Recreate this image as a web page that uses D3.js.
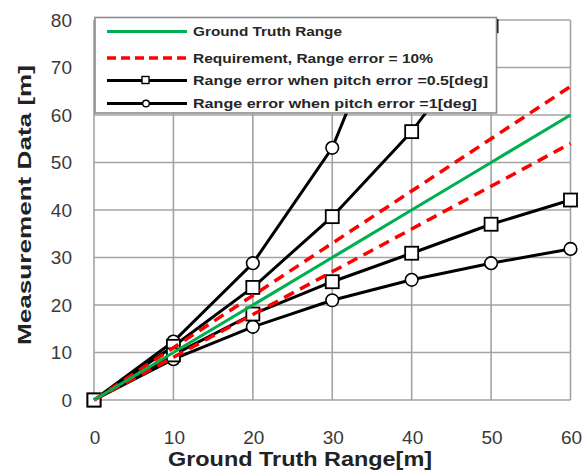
<!DOCTYPE html>
<html>
<head>
<meta charset="utf-8">
<script src="https://cdn.jsdelivr.net/npm/d3@7"></script>
<style>
    body { margin: 0; background: #fff; }
    svg { display: block; font-family: "Liberation Sans", Arial, sans-serif; }
</style>
</head>
<body>
<svg width="583" height="472"></svg>
<script>
// ground truth range [m]
var xValues = [0, 10, 20, 30, 40, 50, 60];
var truthValues = [0, 10, 20, 30, 40, 50, 60];
var reqUpper = [0, 11, 22, 33, 44, 55, 66];
var reqLower = [0, 9, 18, 27, 36, 45, 54];

// pitch error 0.5 deg (squares)
var sqX = [0, 10, 20, 30, 40, 50];
var sqUpper = [0, 11.3, 23.7, 38.6, 56.5, 78.8];
var sqLowerX = [0, 10, 20, 30, 40, 50, 60];
var sqLower = [0, 9.5, 18.1, 24.9, 30.9, 37.0, 42.1];

// pitch error 1 deg (circles)
var ciX = [0, 10, 20, 30, 40];
var ciUpper = [0, 12.3, 28.8, 53.1, 94];
var ciLowerX = [0, 10, 20, 30, 40, 50, 60];
var ciLower = [0, 8.6, 15.4, 21.0, 25.3, 28.8, 31.8];

var xTicks = [0, 10, 20, 30, 40, 50, 60];
var yTicks = [0, 10, 20, 30, 40, 50, 60, 70, 80];

var legendLabels = [
    "Ground Truth Range",
    "Requirement, Range error = 10%",
    "Range error when pitch error =0.5[deg]",
    "Range error when pitch error =1[deg]"
];

(function() {
    var svg = d3.select("svg");
    var x = d3.scaleLinear().domain([0, 60]).range([94, 570.5]);
    var y = d3.scaleLinear().domain([0, 80]).range([400, 20]);

    var gridColor = "#a3a3a3";

    // grid
    svg.append("g").selectAll("line.h")
        .data(yTicks.slice(1))
        .enter().append("line")
        .attr("x1", x(0)).attr("x2", x(60))
        .attr("y1", function(d) { return y(d); })
        .attr("y2", function(d) { return y(d); })
        .attr("stroke", gridColor).attr("stroke-width", 1.6);

    svg.append("g").selectAll("line.v")
        .data(xTicks.slice(1))
        .enter().append("line")
        .attr("y1", y(0)).attr("y2", y(80))
        .attr("x1", function(d) { return x(d); })
        .attr("x2", function(d) { return x(d); })
        .attr("stroke", gridColor).attr("stroke-width", 1.6);

    // axes lines
    svg.append("line").attr("x1", x(0)).attr("x2", x(60)).attr("y1", y(0)).attr("y2", y(0))
        .attr("stroke", gridColor).attr("stroke-width", 1.6);
    svg.append("line").attr("x1", x(0)).attr("x2", x(0)).attr("y1", y(0)).attr("y2", y(80))
        .attr("stroke", gridColor).attr("stroke-width", 1.6);

    // tick labels
    svg.append("g").selectAll("text")
        .data(yTicks)
        .enter().append("text")
        .attr("x", 72)
        .attr("y", function(d) { return y(d); })
        .attr("dy", "0.36em")
        .attr("text-anchor", "end")
        .attr("font-size", 19)
        .attr("fill", "#3a3a3a")
        .text(function(d) { return d; });

    svg.append("g").selectAll("text")
        .data(xTicks)
        .enter().append("text")
        .attr("x", function(d) { return x(d) + 1; })
        .attr("y", 444)
        .attr("text-anchor", "middle")
        .attr("font-size", 19)
        .attr("fill", "#3a3a3a")
        .text(function(d) { return d; });

    // axis titles
    svg.append("text")
        .attr("transform", "translate(31,205) rotate(-90)")
        .attr("text-anchor", "middle")
        .attr("font-size", 19)
        .attr("font-weight", "bold")
        .attr("fill", "#222")
        .attr("textLength", 280)
        .attr("lengthAdjust", "spacingAndGlyphs")
        .text("Measurement Data [m]");

    svg.append("text")
        .attr("x", 300)
        .attr("y", 466)
        .attr("text-anchor", "middle")
        .attr("font-size", 20)
        .attr("font-weight", "bold")
        .attr("fill", "#222")
        .attr("textLength", 264)
        .attr("lengthAdjust", "spacingAndGlyphs")
        .text("Ground Truth Range[m]");

    // clipping for lines going off the top
    svg.append("clipPath").attr("id", "plotClip")
        .append("rect").attr("x", 78).attr("y", 19).attr("width", 510).attr("height", 400);

    var plot = svg.append("g").attr("clip-path", "url(#plotClip)");

    var line = d3.line()
        .x(function(d) { return x(d[0]); })
        .y(function(d) { return y(d[1]); });

    function pairs(xs, ys) {
        return xs.map(function(v, i) { return [v, ys[i]]; });
    }

    function drawSeries(data, marker) {
        plot.append("path")
            .datum(data)
            .attr("d", line)
            .attr("fill", "none")
            .attr("stroke", "#000")
            .attr("stroke-width", 3);
        if (marker === "circle") {
            plot.append("g").selectAll("circle")
                .data(data)
                .enter().append("circle")
                .attr("cx", function(d) { return x(d[0]); })
                .attr("cy", function(d) { return y(d[1]); })
                .attr("r", 6.3)
                .attr("fill", "#fff")
                .attr("stroke", "#000")
                .attr("stroke-width", 1.6);
        } else {
            plot.append("g").selectAll("rect")
                .data(data)
                .enter().append("rect")
                .attr("x", function(d) { return x(d[0]) - 6.5; })
                .attr("y", function(d) { return y(d[1]) - 6.5; })
                .attr("width", 13)
                .attr("height", 13)
                .attr("fill", "#fff")
                .attr("stroke", "#000")
                .attr("stroke-width", 1.8);
        }
    }

    drawSeries(pairs(ciX, ciUpper), "circle");
    drawSeries(pairs(ciLowerX, ciLower), "circle");
    drawSeries(pairs(sqX, sqUpper), "square");
    drawSeries(pairs(sqLowerX, sqLower), "square");

    [reqUpper, reqLower].forEach(function(vals) {
        plot.append("path")
            .datum(pairs(xValues, vals))
            .attr("d", line)
            .attr("fill", "none")
            .attr("stroke", "#ff0000")
            .attr("stroke-width", 3.5)
            .attr("stroke-dasharray", "11,7");
    });

    plot.append("path")
        .datum(pairs(xValues, truthValues))
        .attr("d", line)
        .attr("fill", "none")
        .attr("stroke", "#00b050")
        .attr("stroke-width", 3.2);

    // legend
    var lg = svg.append("g");
    lg.append("rect")
        .attr("x", 95).attr("y", 17.5)
        .attr("width", 401.5).attr("height", 95.5)
        .attr("fill", "#fff")
        .attr("stroke", "#8c8c8c")
        .attr("stroke-width", 1.6);

    var rowY = [31.5, 58, 80.5, 103.5];
    var textLen = [149, 240, 295, 284];

    legendLabels.forEach(function(label, i) {
        var ly = rowY[i];
        var seg = lg.append("line")
            .attr("x1", 107).attr("x2", 187)
            .attr("y1", ly).attr("y2", ly);
        if (i === 0) {
            seg.attr("stroke", "#00b050").attr("stroke-width", 3.2);
        } else if (i === 1) {
            seg.attr("stroke", "#ff0000").attr("stroke-width", 3.5).attr("stroke-dasharray", "9,5");
        } else {
            seg.attr("stroke", "#000").attr("stroke-width", 3);
        }
        if (i === 2) {
            lg.append("rect").attr("x", 142).attr("y", ly - 4).attr("width", 7).attr("height", 7)
                .attr("fill", "#fff").attr("stroke", "#000").attr("stroke-width", 1.4);
        }
        if (i === 3) {
            lg.append("circle").attr("cx", 146).attr("cy", ly).attr("r", 3.3)
                .attr("fill", "#fff").attr("stroke", "#000").attr("stroke-width", 1.4);
        }
        lg.append("text")
            .attr("x", 193)
            .attr("y", ly)
            .attr("dy", "0.36em")
            .attr("font-size", 13.5)
            .attr("font-weight", "bold")
            .attr("fill", "#262626")
            .attr("textLength", textLen[i])
            .attr("lengthAdjust", "spacingAndGlyphs")
            .text(label);
    });
})();
</script>
</body>
</html>
